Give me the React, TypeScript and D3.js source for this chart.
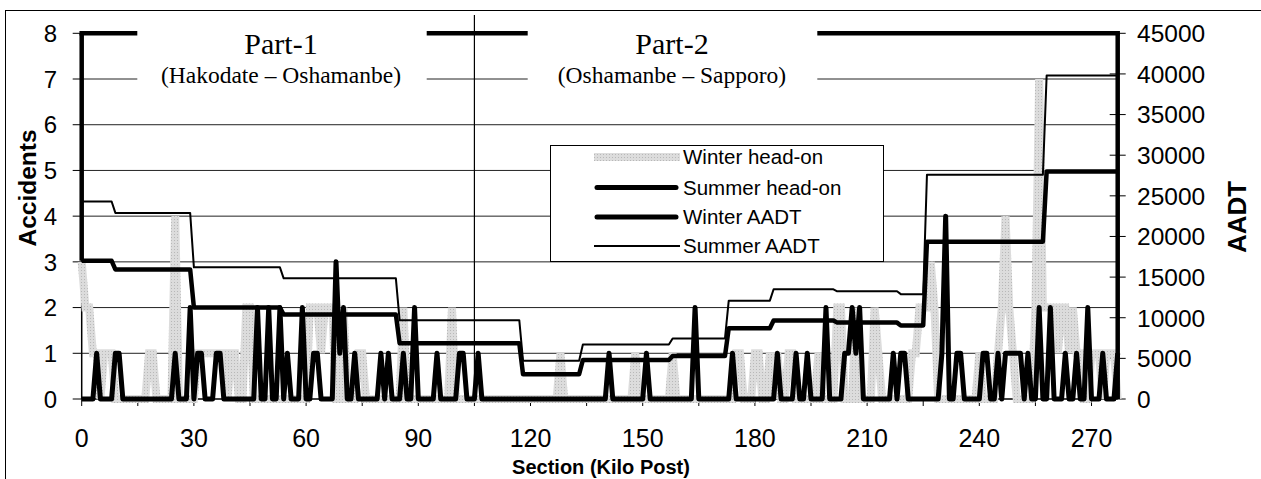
import React, { useEffect, useRef } from 'react';
import * as d3 from 'd3';

// head-on accidents per kilo post 0..277
const winterHeadOn = [
  3, 2, 2, 1, 1, 0, 1, 1, 1, 0, 0, 0, 0, 0, 0, 0, 0, 0, 1, 1,
  0, 0, 0, 0, 0, 4, 0, 0, 0, 0, 0, 1, 1, 1, 1, 1, 1, 1, 1, 0,
  1, 1, 0, 0, 2, 2, 0, 0, 0, 0, 0, 0, 0, 0, 0, 0, 0, 0, 0, 0,
  0, 2, 2, 2, 1, 2, 2, 2, 0, 0, 2, 0, 0, 0, 1, 1, 0, 0, 0, 0,
  0, 0, 0, 0, 0, 0, 2, 0, 0, 0, 0, 0, 0, 0, 0, 0, 0, 0, 0, 2,
  0, 0, 0, 0, 0, 0, 0, 0, 0, 0, 0, 0, 0, 0, 0, 0, 0, 0, 0, 0,
  0, 0, 0, 0, 0, 0, 0, 0, 1, 0, 0, 0, 0, 0, 0, 0, 0, 0, 0, 0,
  0, 0, 0, 0, 0, 0, 0, 0, 1, 0, 0, 0, 0, 0, 0, 0, 0, 0, 1, 0,
  0, 0, 0, 0, 0, 0, 0, 0, 0, 0, 0, 0, 0, 0, 0, 1, 1, 0, 0, 0,
  1, 1, 0, 0, 1, 0, 1, 0, 0, 1, 1, 0, 0, 0, 0, 0, 0, 1, 0, 0,
  0, 0, 2, 2, 0, 0, 0, 2, 0, 0, 0, 0, 2, 1, 0, 0, 0, 0, 0, 0,
  0, 0, 1, 1, 2, 2, 2, 3, 2, 0, 0, 0, 0, 0, 0, 0, 0, 0, 0, 0,
  1, 0, 0, 0, 0, 1, 2, 4, 2, 1, 0, 0, 0, 0, 0, 2, 7, 2, 2, 2,
  2, 1, 2, 2, 1, 2, 1, 1, 0, 0, 1, 1, 1, 0, 1, 1, 1, 0
];

const summerHeadOn = [
  0, 0, 0, 0, 1, 0, 0, 0, 0, 1, 1, 0, 0, 0, 0, 0, 0, 0, 0, 0,
  0, 0, 0, 0, 0, 1, 0, 0, 0, 2, 0, 1, 1, 0, 0, 0, 1, 1, 0, 0,
  0, 0, 0, 0, 0, 0, 0, 2, 0, 0, 2, 0, 0, 2, 0, 1, 0, 0, 0, 2,
  0, 0, 1, 1, 0, 0, 0, 0, 3, 1, 2, 0, 0, 1, 0, 0, 0, 0, 0, 0,
  1, 0, 1, 0, 0, 0, 1, 0, 0, 2, 0, 0, 0, 0, 0, 1, 0, 0, 0, 0,
  0, 1, 1, 0, 0, 0, 1, 0, 0, 0, 0, 0, 0, 0, 0, 0, 0, 0, 0, 0,
  0, 0, 0, 0, 0, 0, 0, 0, 0, 0, 0, 0, 0, 0, 0, 0, 0, 0, 0, 0,
  0, 1, 0, 0, 0, 0, 0, 0, 0, 0, 0, 1, 0, 0, 0, 0, 0, 0, 0, 0,
  0, 0, 0, 0, 2, 0, 0, 0, 0, 0, 0, 0, 0, 0, 1, 0, 0, 0, 0, 0,
  0, 0, 0, 0, 0, 0, 1, 0, 0, 0, 0, 1, 0, 0, 1, 0, 0, 0, 0, 2,
  0, 0, 0, 0, 1, 1, 2, 1, 2, 0, 0, 0, 0, 0, 0, 0, 0, 1, 0, 1,
  1, 0, 0, 0, 0, 0, 0, 0, 0, 0, 1, 4, 0, 0, 1, 1, 0, 0, 0, 0,
  0, 1, 1, 0, 0, 1, 0, 1, 1, 1, 1, 1, 0, 1, 0, 0, 2, 0, 0, 2,
  0, 0, 0, 1, 0, 0, 1, 0, 0, 2, 0, 0, 0, 1, 0, 0, 0, 1
];

// AADT step lines, vertices (kilo post, vehicles/day)
const aadtKm = [0, 8, 9, 29, 30, 53, 54, 84, 85, 117, 118, 133, 134, 157, 158, 172, 173, 184, 185, 201, 202, 218, 219, 225, 226, 257, 258, 277];
const winterAadt = [17000, 17000, 15950, 15950, 11250, 11250, 10400, 10400, 6850, 6850, 3050, 3050, 4800, 4800, 5300, 5300, 8700, 8700, 9650, 9650, 9400, 9400, 9050, 9050, 19350, 19350, 28000, 28000];
const summerAadt = [24300, 24300, 22900, 22900, 16200, 16200, 14850, 14850, 9700, 9700, 4700, 4700, 6700, 6700, 7450, 7450, 12100, 12100, 13500, 13500, 13250, 13250, 12900, 12900, 27600, 27600, 39800, 39800];

const accidentTicks = [0, 1, 2, 3, 4, 5, 6, 7, 8];
const aadtTicks = [0, 5000, 10000, 15000, 20000, 25000, 30000, 35000, 40000, 45000];
const sectionLabels = [0, 30, 60, 90, 120, 150, 180, 210, 240, 270];
const sectionTicks = [0, 15, 30, 45, 60, 75, 90, 105, 120, 135, 150, 165, 180, 195, 210, 225, 240, 255, 270];
const partBoundaryKm = 105;

const parts = [
  { title: 'Part-1', sub: '(Hakodate – Oshamanbe)', cx: 281, x0: 137.3, x1: 426.7 },
  { title: 'Part-2', sub: '(Oshamanbe – Sapporo)', cx: 672, x0: 527.7, x1: 817.3 }
];

const legendItems = [
  { label: 'Winter head-on', stroke: 'url(#stipple)', width: 8, cap: 'butt' },
  { label: 'Summer head-on', stroke: '#000', width: 5, cap: 'round' },
  { label: 'Winter AADT', stroke: '#000', width: 5, cap: 'round' },
  { label: 'Summer AADT', stroke: '#000', width: 2, cap: 'butt' }
];

const SANS = 'Liberation Sans, Arial, Helvetica, sans-serif';
const SERIF = 'Liberation Serif, Times New Roman, serif';

const App = () => {
  const svgRef = useRef<SVGSVGElement>(null);

  useEffect(() => {
    const svg = d3.select(svgRef.current);
    svg.selectAll('*').remove();

    const left = 81.7;
    const right = 1117.7;
    const top = 33.3;
    const bottom = 399;

    const x = d3.scaleLinear().domain([0, 277]).range([left, right]);
    const yAcc = d3.scaleLinear().domain([0, 8]).range([bottom, top]);
    const yAadt = d3.scaleLinear().domain([0, 45000]).range([bottom, top]);

    // stipple texture for the grey series
    const pat = svg.append('defs').append('pattern')
      .attr('id', 'stipple')
      .attr('patternUnits', 'userSpaceOnUse')
      .attr('width', 3)
      .attr('height', 3);
    pat.append('rect').attr('width', 3).attr('height', 3).attr('fill', '#dcdcdc');
    pat.append('rect').attr('width', 1).attr('height', 1).attr('fill', '#b8b8b8');

    // outer figure border
    svg.append('rect')
      .attr('x', 5.5).attr('y', 10.5)
      .attr('width', 1400).attr('height', 600)
      .attr('fill', 'white').attr('stroke', '#000').attr('stroke-width', 1);

    // gridlines
    svg.append('g').selectAll('line')
      .data(accidentTicks.filter(d => d > 0 && d < 8))
      .enter().append('line')
      .attr('x1', left).attr('x2', right)
      .attr('y1', d => yAcc(d)).attr('y2', d => yAcc(d))
      .attr('stroke', '#222').attr('stroke-width', 1);

    // left axis
    svg.append('line')
      .attr('x1', left).attr('x2', left).attr('y1', top).attr('y2', bottom)
      .attr('stroke', '#000').attr('stroke-width', 1.5);
    svg.append('g').selectAll('line')
      .data(accidentTicks)
      .enter().append('line')
      .attr('x1', left - 9).attr('x2', left)
      .attr('y1', d => yAcc(d)).attr('y2', d => yAcc(d))
      .attr('stroke', '#000').attr('stroke-width', 1);
    svg.append('g').selectAll('text')
      .data(accidentTicks)
      .enter().append('text')
      .attr('x', 57).attr('y', d => yAcc(d))
      .attr('dy', '0.36em')
      .attr('text-anchor', 'end')
      .style('font-family', SANS).style('font-size', '24px')
      .text(d => d);

    // bottom axis
    svg.append('line')
      .attr('x1', left).attr('x2', right).attr('y1', bottom).attr('y2', bottom)
      .attr('stroke', '#000').attr('stroke-width', 1.5);
    svg.append('g').selectAll('line')
      .data(sectionTicks)
      .enter().append('line')
      .attr('x1', d => x(d)).attr('x2', d => x(d))
      .attr('y1', bottom).attr('y2', bottom + 7)
      .attr('stroke', '#000').attr('stroke-width', 1);
    svg.append('g').selectAll('text')
      .data(sectionLabels)
      .enter().append('text')
      .attr('x', d => x(d)).attr('y', 447)
      .attr('text-anchor', 'middle')
      .style('font-family', SANS).style('font-size', '25px')
      .text(d => d);

    // right axis
    svg.append('g').selectAll('line')
      .data(aadtTicks)
      .enter().append('line')
      .attr('x1', right - 8).attr('x2', right + 8)
      .attr('y1', d => yAadt(d)).attr('y2', d => yAadt(d))
      .attr('stroke', '#000').attr('stroke-width', 1);
    svg.append('g').selectAll('text')
      .data(aadtTicks)
      .enter().append('text')
      .attr('x', 1137).attr('y', d => yAadt(d))
      .attr('dy', '0.36em')
      .style('font-family', SANS).style('font-size', '24.5px')
      .text(d => d);

    // part boundary
    svg.append('line')
      .attr('x1', x(partBoundaryKm)).attr('x2', x(partBoundaryKm))
      .attr('y1', 15).attr('y2', bottom)
      .attr('stroke', '#000').attr('stroke-width', 1.2);

    // series
    const accLine = d3.line<number>()
      .x((d, i) => x(i))
      .y(d => yAcc(d));

    svg.append('path')
      .attr('d', accLine(winterHeadOn))
      .attr('fill', 'none')
      .attr('stroke', 'url(#stipple)')
      .attr('stroke-width', 8)
      .attr('stroke-linejoin', 'miter')
      .attr('stroke-miterlimit', 2);

    svg.append('path')
      .attr('d', accLine(summerHeadOn))
      .attr('fill', 'none')
      .attr('stroke', '#000')
      .attr('stroke-width', 5)
      .attr('stroke-linejoin', 'round');

    const aadtLine = d3.line<number>()
      .x((d, i) => x(aadtKm[i]))
      .y(d => yAadt(d));

    svg.append('path')
      .attr('d', aadtLine(winterAadt))
      .attr('fill', 'none')
      .attr('stroke', '#000')
      .attr('stroke-width', 4.5)
      .attr('stroke-linejoin', 'round');

    svg.append('path')
      .attr('d', aadtLine(summerAadt))
      .attr('fill', 'none')
      .attr('stroke', '#000')
      .attr('stroke-width', 2)
      .attr('stroke-linejoin', 'round');

    // thick plot frame (top, right, upper left)
    svg.append('line')
      .attr('x1', left).attr('x2', right).attr('y1', top).attr('y2', top)
      .attr('stroke', '#000').attr('stroke-width', 4.5).attr('stroke-linecap', 'square');
    svg.append('line')
      .attr('x1', right).attr('x2', right).attr('y1', top).attr('y2', bottom)
      .attr('stroke', '#000').attr('stroke-width', 4.5);
    svg.append('line')
      .attr('x1', left).attr('x2', left).attr('y1', top).attr('y2', yAadt(winterAadt[0]))
      .attr('stroke', '#000').attr('stroke-width', 4.5);

    // part titles in white boxes
    const partG = svg.append('g').selectAll('g')
      .data(parts)
      .enter().append('g');
    partG.append('rect')
      .attr('x', d => d.x0).attr('y', 18)
      .attr('width', d => d.x1 - d.x0).attr('height', 80)
      .attr('fill', 'white');
    partG.append('text')
      .attr('x', d => d.cx).attr('y', 54)
      .attr('text-anchor', 'middle')
      .style('font-family', SERIF).style('font-size', '30px')
      .text(d => d.title);
    partG.append('text')
      .attr('x', d => d.cx).attr('y', 83)
      .attr('text-anchor', 'middle')
      .style('font-family', SERIF).style('font-size', '23.5px')
      .text(d => d.sub);

    // axis titles
    svg.append('text')
      .attr('transform', 'translate(27,188) rotate(-90)')
      .attr('text-anchor', 'middle').attr('dy', '0.35em')
      .style('font-family', SANS).style('font-size', '24.5px').style('font-weight', 'bold')
      .text('Accidents');
    svg.append('text')
      .attr('transform', 'translate(1237,217) rotate(-90)')
      .attr('text-anchor', 'middle').attr('dy', '0.35em')
      .style('font-family', SANS).style('font-size', '26px').style('font-weight', 'bold')
      .text('AADT');
    svg.append('text')
      .attr('x', 601).attr('y', 474)
      .attr('text-anchor', 'middle')
      .style('font-family', SANS).style('font-size', '20px').style('font-weight', 'bold')
      .text('Section (Kilo Post)');

    // legend
    const legend = svg.append('g').attr('class', 'legend');
    legend.append('rect')
      .attr('x', 550.5).attr('y', 145.5).attr('width', 333).attr('height', 116)
      .attr('fill', 'white').attr('stroke', '#000').attr('stroke-width', 1);
    const rowsY = [157, 187.5, 217, 246];
    const rows = legend.selectAll('.legend-item')
      .data(legendItems)
      .enter().append('g')
      .attr('class', 'legend-item')
      .attr('transform', (d, i) => `translate(0, ${rowsY[i]})`);
    rows.append('line')
      .attr('x1', d => (d.cap === 'round' ? 597 : 594)).attr('x2', d => (d.cap === 'round' ? 676 : 680))
      .attr('y1', 0).attr('y2', 0)
      .attr('stroke', d => d.stroke)
      .attr('stroke-width', d => d.width)
      .attr('stroke-linecap', d => d.cap);
    rows.append('text')
      .attr('x', 683).attr('y', 0).attr('dy', '0.36em')
      .style('font-family', SANS).style('font-size', '20.5px')
      .text(d => d.label);
  }, []);

  return (
    <svg
      ref={svgRef}
      width={1261}
      height={479}
      style={{ position: 'absolute', left: 0, top: 0, background: 'white' }}
    ></svg>
  );
};

export default App;
